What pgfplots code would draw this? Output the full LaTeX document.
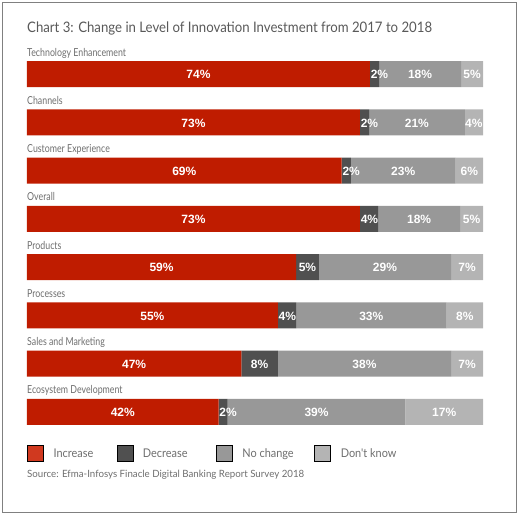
\documentclass[border=0pt]{standalone}
\usepackage{fontspec}
\setmainfont{Lato}
\newfontfamily\titlefont{Lato}[FakeStretch=0.91]
\newfontfamily\catfont{Lato}[FakeStretch=0.8]
\newfontfamily\legfont{Lato}[FakeStretch=0.91]
\newfontfamily\srcfont{Lato}[FakeStretch=0.97]
\newfontfamily\barfont{Liberation Sans}
\usepackage{pgfplots}
\usepackage{pgfplotstable}
\pgfplotsset{compat=1.18}

\definecolor{incCol}{HTML}{BF1C00}
\definecolor{decCol}{HTML}{505050}
\definecolor{ncCol}{HTML}{989898}
\definecolor{dkCol}{HTML}{B4B4B4}
\definecolor{legInc}{HTML}{D0391F}
\definecolor{titleCol}{HTML}{595959}
\definecolor{labCol}{HTML}{6E6E6E}
\definecolor{frameCol}{HTML}{808080}

% plotted lengths (x) and printed labels (l), rows from bottom to top
\pgfplotstableread{
y inc incl dec decl nc ncl dk dkl
7 75.2 74 2 2 18 18 4.8 5
6 73 73 2 2 21 21 4 4
5 69 69 2 2 23 23 6 6
4 73 73 4 4 18 18 5 5
3 59 59 5 5 29 29 7 7
2 55 55 4 4 33 33 8 8
1 47 47 8 8 38 38 7 7
0 42 42 2 2 39 39 17 17
}\invest

\begin{document}
\begin{tikzpicture}
\useasboundingbox (0pt,0pt) rectangle (520pt,-515pt);
\draw[frameCol, line width=1pt] (2.5pt,-2.5pt) rectangle (516.5pt,-512.5pt);

\node[anchor=base west, inner sep=0pt, text=titleCol, font=\titlefont\fontsize{14.5}{16}\selectfont]
  at (27pt,-32.3pt) {Chart 3: Change in Level of Innovation Investment from 2017 to 2018};

\begin{axis}[
    at={(27pt,-435.875pt)}, anchor=south west,
    width=456pt, height=386pt, scale only axis,
    xbar stacked, bar width=26pt,
    xmin=0, xmax=100, ymin=-0.5, ymax=7.5,
    axis line style={draw=none}, tick style={draw=none},
    xtick=\empty,
    ytick={0,...,7},
    yticklabels={Ecosystem Development, Sales and Marketing, Processes, Products,
      Overall, Customer Experience, Channels, Technology Enhancement},
    yticklabel style={anchor=base west, inner sep=0pt, yshift=18pt,
      text=labCol, font=\catfont\fontsize{11}{13}\selectfont},
    point meta=explicit symbolic,
    nodes near coords={\pgfplotspointmeta\%},
    every node near coord/.append style={anchor=center, text=white, yshift=-0.75pt,
      font=\barfont\bfseries\fontsize{12}{14}\selectfont},
    legend image code/.code={\fill[#1] (0pt,-3.5pt) rectangle (16pt,12.5pt);},
    legend style={at={(0,0)}, anchor=north west, yshift=-9.1pt,
      draw=none, fill=none, inner sep=0pt, legend columns=4,
      /tikz/every even column/.append style={column sep=0pt},
      nodes={inner sep=0pt, anchor=base west, text=labCol,
        font=\legfont\fontsize{12}{14}\selectfont}},
]
\addlegendimage{fill=legInc}
\addlegendimage{fill=decCol}
\addlegendimage{fill=ncCol}
\addlegendimage{fill=dkCol}

% labels sit centred in their segment; narrow "decrease" ones are pushed right
\addplot[forget plot, fill=incCol, draw=none]
  table[x=inc, y=y, meta=incl] {\invest};
\addplot[forget plot, fill=decCol, draw=none,
    visualization depends on={max(0,2.1-\thisrow{dec}/2) \as \sh},
    every node near coord/.append style={shift={(axis direction cs:\sh,0)}}]
  table[x=dec, y=y, meta=decl] {\invest};
\addplot[forget plot, fill=ncCol, draw=none]
  table[x=nc, y=y, meta=ncl] {\invest};
\addplot[forget plot, fill=dkCol, draw=none]
  table[x=dk, y=y, meta=dkl] {\invest};

\legend{\makebox[73pt][l]{\hspace*{10pt}Increase},
  \makebox[83pt][l]{\hspace*{10pt}Decrease},
  \makebox[82pt][l]{\hspace*{10pt}No change},
  \makebox[70pt][l]{\hspace*{10pt}Don't know}}
\end{axis}

\node[anchor=base west, inner sep=0pt, text=labCol, font=\srcfont\fontsize{10}{12}\selectfont]
  at (27pt,-477.3pt) {Source: Efma-Infosys Finacle Digital Banking Report Survey 2018};
\end{tikzpicture}
\end{document}
